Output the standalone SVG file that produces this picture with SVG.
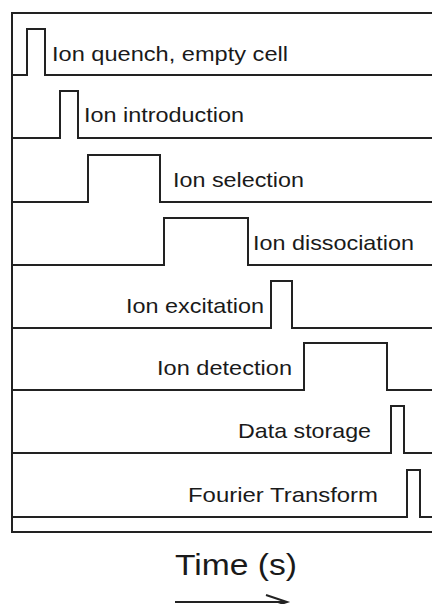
<svg xmlns="http://www.w3.org/2000/svg" width="432" height="604" viewBox="0 0 432 604">
<style>
.w{fill:none;stroke:#222;stroke-width:2;stroke-linejoin:miter}
.t{font-family:"Liberation Sans",Arial,sans-serif;font-size:21px;fill:#1a1a1a}
.ax{font-family:"Liberation Sans",Arial,sans-serif;font-size:30px;fill:#1a1a1a}
</style>
<rect width="432" height="604" fill="#fff"/>
<g id="frame">
<path class="w" d="M432,13 H12 V532 H432"/>
</g>
<g id="row1">
<path class="w" d="M12,75 H27 V29 H45 V75 H432"/>
<text class="t" x="52" y="61" textLength="236" lengthAdjust="spacingAndGlyphs">Ion quench, empty cell</text>
</g>
<g id="row2">
<path class="w" d="M12,138 H60 V91 H78 V138 H432"/>
<text class="t" x="84" y="122" textLength="160" lengthAdjust="spacingAndGlyphs">Ion introduction</text>
</g>
<g id="row3">
<path class="w" d="M12,202 H88 V155 H160 V202 H432"/>
<text class="t" x="173" y="187" textLength="131" lengthAdjust="spacingAndGlyphs">Ion selection</text>
</g>
<g id="row4">
<path class="w" d="M12,265 H164 V218 H248 V265 H432"/>
<text class="t" x="253" y="250" textLength="161" lengthAdjust="spacingAndGlyphs">Ion dissociation</text>
</g>
<g id="row5">
<path class="w" d="M12,328 H271 V281 H292 V328 H432"/>
<text class="t" x="126" y="313" textLength="138" lengthAdjust="spacingAndGlyphs">Ion excitation</text>
</g>
<g id="row6">
<path class="w" d="M12,390 H304 V343 H387 V390 H432"/>
<text class="t" x="157" y="375" textLength="135" lengthAdjust="spacingAndGlyphs">Ion detection</text>
</g>
<g id="row7">
<path class="w" d="M12,453 H391 V406 H404 V453 H432"/>
<text class="t" x="238" y="438" textLength="133" lengthAdjust="spacingAndGlyphs">Data storage</text>
</g>
<g id="row8">
<path class="w" d="M12,517 H407 V470 H420 V517 H432"/>
<text class="t" x="188" y="502" textLength="190" lengthAdjust="spacingAndGlyphs">Fourier Transform</text>
</g>
<g id="axis-label">
<text class="ax" x="175" y="575" textLength="122" lengthAdjust="spacingAndGlyphs">Time (s)</text>
</g>
<g id="connectors">
<path class="w" d="M175,602 H287 M266,595 L287,602 L266,609"/>
</g>
</svg>
